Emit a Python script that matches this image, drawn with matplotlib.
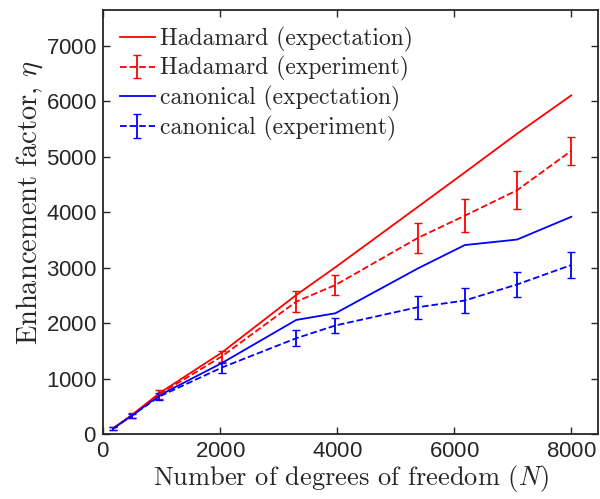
import numpy as np
import matplotlib
matplotlib.use('Agg')
import matplotlib.pyplot as plt

plt.rcParams['mathtext.fontset'] = 'cm'
plt.rcParams['axes.formatter.use_mathtext'] = True

# degrees of freedom
N = [169, 484, 961, 2025, 3300, 3969, 5380, 6180, 7075, 8000]

# Hadamard
had_exp = [105, 340, 740, 1470, 2510, 3010, 4100, 4720, 5420, 6110]
had_meas = [100, 335, 720, 1400, 2390, 2690, 3540, 3940, 4400, 5110]
had_err = [20, 40, 80, 100, 185, 185, 270, 300, 340, 250]

# canonical
can_exp = [100, 330, 700, 1280, 2060, 2180, 2990, 3410, 3510, 3920]
can_meas = [100, 330, 680, 1200, 1730, 1960, 2290, 2410, 2700, 3050]
can_err = [20, 35, 60, 90, 140, 130, 210, 220, 230, 240]

fig = plt.figure(figsize=(6, 4.99), dpi=100)
ax = fig.add_axes([0.172, 0.13, 0.825, 0.85])

h1, = ax.plot(N, had_exp, '-', color='#ff0000', lw=1.3, label='Hadamard (expectation)')
h2 = ax.errorbar(N, had_meas, yerr=had_err, fmt='--', color='#ff0000', lw=1.3,
                 capsize=3, elinewidth=1.3, label='Hadamard (experiment)')
h3, = ax.plot(N, can_exp, '-', color='#0000ff', lw=1.3, label='canonical (expectation)')
h4 = ax.errorbar(N, can_meas, yerr=can_err, fmt='--', color='#0000ff', lw=1.3,
                 capsize=3, elinewidth=1.3, label='canonical (experiment)')

ax.set_xlim(0, 8460)
ax.set_ylim(0, 7650)
ax.set_xticks([0, 2000, 4000, 6000, 8000])
ax.set_yticks(np.arange(0, 8000, 1000))
ax.tick_params(direction='in', top=True, right=True, length=5, width=1,
               labelsize=16, colors='#262626', pad=5)
for lab in ax.get_xticklabels() + ax.get_yticklabels():
    lab.set_family('Liberation Sans')
for s in ax.spines.values():
    s.set_linewidth(1.3)
    s.set_color('#262626')

ax.set_xlabel(r'Number of degrees of freedom $(N)$', family='cmr10',
              fontsize=19, color='#262626', labelpad=1)
ax.set_ylabel(r'Enhancement factor, $\eta$', family='cmr10',
              fontsize=20.5, color='#262626')
ax.yaxis.set_label_coords(-0.117, 0.545)

leg = ax.legend([h1, h2, h3, h4], [h1.get_label(), h2.get_label(), h3.get_label(), h4.get_label()],
                loc='upper left', frameon=False, prop={'family': 'cmr10', 'size': 17},
                handlelength=1.5, handletextpad=0.2, labelspacing=0.2,
                borderaxespad=0.3, borderpad=0.4)
for t in leg.get_texts():
    t.set_color('#262626')

fig.savefig('out.png', dpi=100)
